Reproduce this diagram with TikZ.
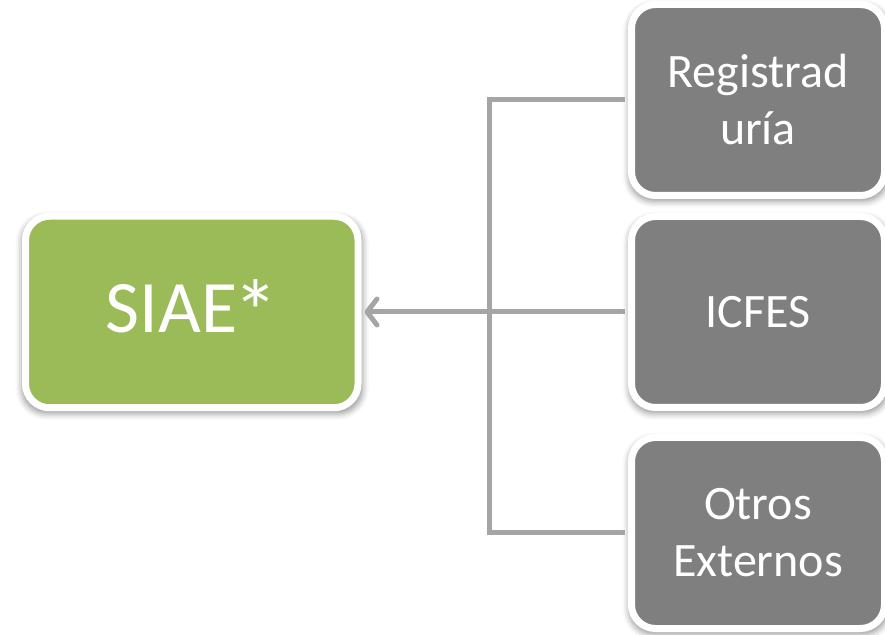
\documentclass[tikz,border=0pt]{standalone}
\usepackage{fontspec}
\setmainfont{Carlito}
\usetikzlibrary{arrows.meta,shadows.blur}
\definecolor{boxgreen}{HTML}{9BBB59}
\definecolor{boxgray}{HTML}{7F7F7F}
\definecolor{conngray}{HTML}{A5A5A5}
\begin{document}
\begin{tikzpicture}[x=1pt,y=1pt,
  basebox/.style={draw=white, line width=7pt, rounded corners=24pt, text=white, align=center,
    inner sep=0pt,
    blur shadow={shadow xshift=0.5pt, shadow yshift=-3.5pt, shadow scale=1.025, shadow blur radius=6pt, shadow opacity=40}},
  greenbox/.style={basebox, fill=boxgreen, minimum width=332.5pt, minimum height=191.5pt,
    font=\fontsize{74}{88}\selectfont},
  graybox/.style={basebox, fill=boxgray, minimum width=253pt, minimum height=191pt,
    font=\fontsize{48}{57}\selectfont},
  conn/.style={draw=conngray, line width=5pt},
  arr/.style={conn, -{Straight Barb[length=10pt, width=26pt, line cap=round, line join=round]}}
]
\useasboundingbox (0,0) rectangle (885,634);
\node[greenbox] (siae) at (191.75,322) {SIAE\kern-4pt\raisebox{-11pt}{\fontsize{90}{90}\selectfont *}};
\node[graybox] (r1) at (758,534) {Registrad\\uría};
\node[graybox] (r2) at (758,322) {ICFES};
\node[graybox] (r3) at (758,101) {Otros\\Externos};
\coordinate (j) at (493,322);
\draw[conn] ([xshift=-3.5pt]r1.west) -- ([xshift=-3.5pt]r1.west -| j) -- ([xshift=-3.5pt]r3.west -| j) -- ([xshift=-3.5pt]r3.west);
\draw[arr] ([xshift=-3.5pt]r2.west) -- ([xshift=3pt]siae.east);
\end{tikzpicture}
\end{document}
